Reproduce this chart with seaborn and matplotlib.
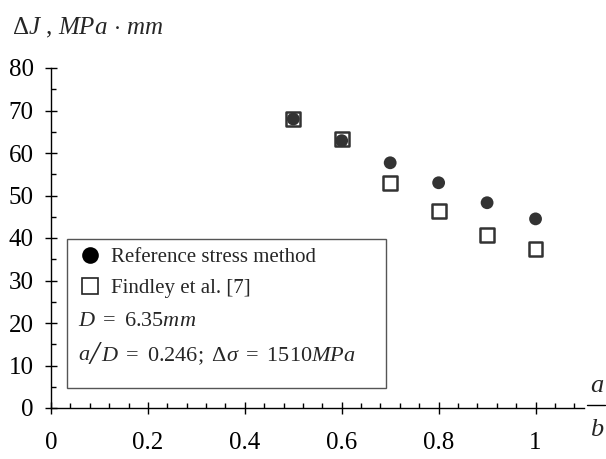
import matplotlib
matplotlib.use("Agg")
import matplotlib.pyplot as plt
from matplotlib.lines import Line2D
from matplotlib.patches import Rectangle
import seaborn as sns
import pandas as pd

# ---- data ----
ratio_ab = [0.5, 0.6, 0.7, 0.8, 0.9, 1.0]
ref_stress = [68.0, 62.9, 57.7, 53.0, 48.3, 44.5]
findley = [68.0, 63.3, 53.0, 46.4, 40.7, 37.4]
x_ticks = [0, 0.2, 0.4, 0.6, 0.8, 1.0]
x_tick_labels = ["0", "0.2", "0.4", "0.6", "0.8", "1"]
y_ticks = [0, 10, 20, 30, 40, 50, 60, 70, 80]
label_ref = "Reference stress method"
label_findley = "Findley et al. [7]"

df = pd.DataFrame({"ab": ratio_ab, "ref": ref_stress, "findley": findley})

sns.set_style("white")
plt.rcParams["font.family"] = ["Liberation Serif", "DejaVu Serif"]
plt.rcParams["mathtext.fontset"] = "custom"
plt.rcParams["mathtext.rm"] = "Liberation Serif"
plt.rcParams["mathtext.it"] = "Liberation Serif:italic"
plt.rcParams["mathtext.bf"] = "Liberation Serif:bold"

W, H = 606, 459
fig = plt.figure(figsize=(W / 100, H / 100), dpi=100)
ax = fig.add_axes([51 / W, 1 - 408 / H, (584 - 51) / W, (408 - 68) / H])

dark = "#333333"
sns.scatterplot(data=df, x="ab", y="findley", marker="s", s=100,
                facecolors="none", edgecolor=dark, linewidth=1.8, ax=ax, zorder=3)
sns.scatterplot(data=df, x="ab", y="ref", marker="o", s=85,
                color=dark, edgecolor="none", linewidth=0, ax=ax, zorder=4)

ax.set_xlim(0, 1.1)
ax.set_ylim(0, 80)
ax.set_xlabel("")
ax.set_ylabel("")
for s in ["top", "right"]:
    ax.spines[s].set_visible(False)
for s in ["left", "bottom"]:
    ax.spines[s].set_color("black")
    ax.spines[s].set_linewidth(1.0)
    ax.spines[s].set_zorder(5)

ax.set_xticks(x_ticks)
ax.set_xticklabels(x_tick_labels)
ax.set_xticks([i * 0.04 for i in range(28)], minor=True)
ax.set_yticks(y_ticks)
ax.set_yticks([5 + 10 * i for i in range(8)], minor=True)
ax.tick_params(axis="both", which="major", direction="inout", length=9,
               width=1.0, color="black", labelsize=18, labelcolor="black")
ax.tick_params(axis="x", which="major", pad=13)
ax.tick_params(axis="y", which="major", pad=8)
ax.tick_params(axis="both", which="minor", direction="in", length=3.6,
               width=1.0, color="black")
ax.tick_params(left=True, bottom=True, which="both")

# y label at the top
fig.text(12 / W, 1 - 28 / H, r"$\Delta J\ ,\,MPa\,\cdot\,mm$", fontsize=18,
         ha="left", va="center")

# x label as fraction a/b
fig.text(597 / W, 1 - 386 / H, r"$a$", fontsize=19, ha="center", va="center")
fig.add_artist(Line2D([587 / W, 605 / W], [1 - 405 / H, 1 - 405 / H],
                      transform=fig.transFigure, color="black", lw=1.0))
fig.text(597 / W, 1 - 430 / H, r"$b$", fontsize=19, ha="center", va="center")

# legend box
fig.add_artist(Rectangle((67 / W, 1 - 388 / H), (386 - 67) / W, (388 - 239) / H,
                         transform=fig.transFigure, facecolor="white",
                         edgecolor="#555555", lw=1.0, zorder=6))
handles = [
    Line2D([], [], marker="o", ls="none", color="black", markersize=12,
           markeredgewidth=0),
    Line2D([], [], marker="s", ls="none", markerfacecolor="white",
           markeredgecolor="#222222", markersize=11, markeredgewidth=1.2),
]
leg = fig.legend(handles, [label_ref, label_findley], loc="center left",
                 bbox_to_anchor=(71 / W, 1 - 273 / H), frameon=False,
                 borderpad=0, handlelength=0.8, handletextpad=0.6,
                 labelspacing=0.55, fontsize=15)
leg.set_zorder(7)
fig.text(78 / W, 1 - 321 / H, r"$D\ =\ 6.35mm$", fontsize=16,
         ha="left", va="center", zorder=7)
fig.text(78 / W, 1 - 356 / H, r"$a$", fontsize=16,
         ha="left", va="center", zorder=7)
fig.text(94 / W, 1 - 356 / H, "/", fontsize=24, fontstyle="italic",
         ha="center", va="center", zorder=7)
fig.text(101 / W, 1 - 356 / H,
         r"$D\ =\ 0.246;\ \Delta\sigma\ =\ 1510MPa$",
         fontsize=16, ha="left", va="center", zorder=7)

fig.savefig("out.png", dpi=100)
